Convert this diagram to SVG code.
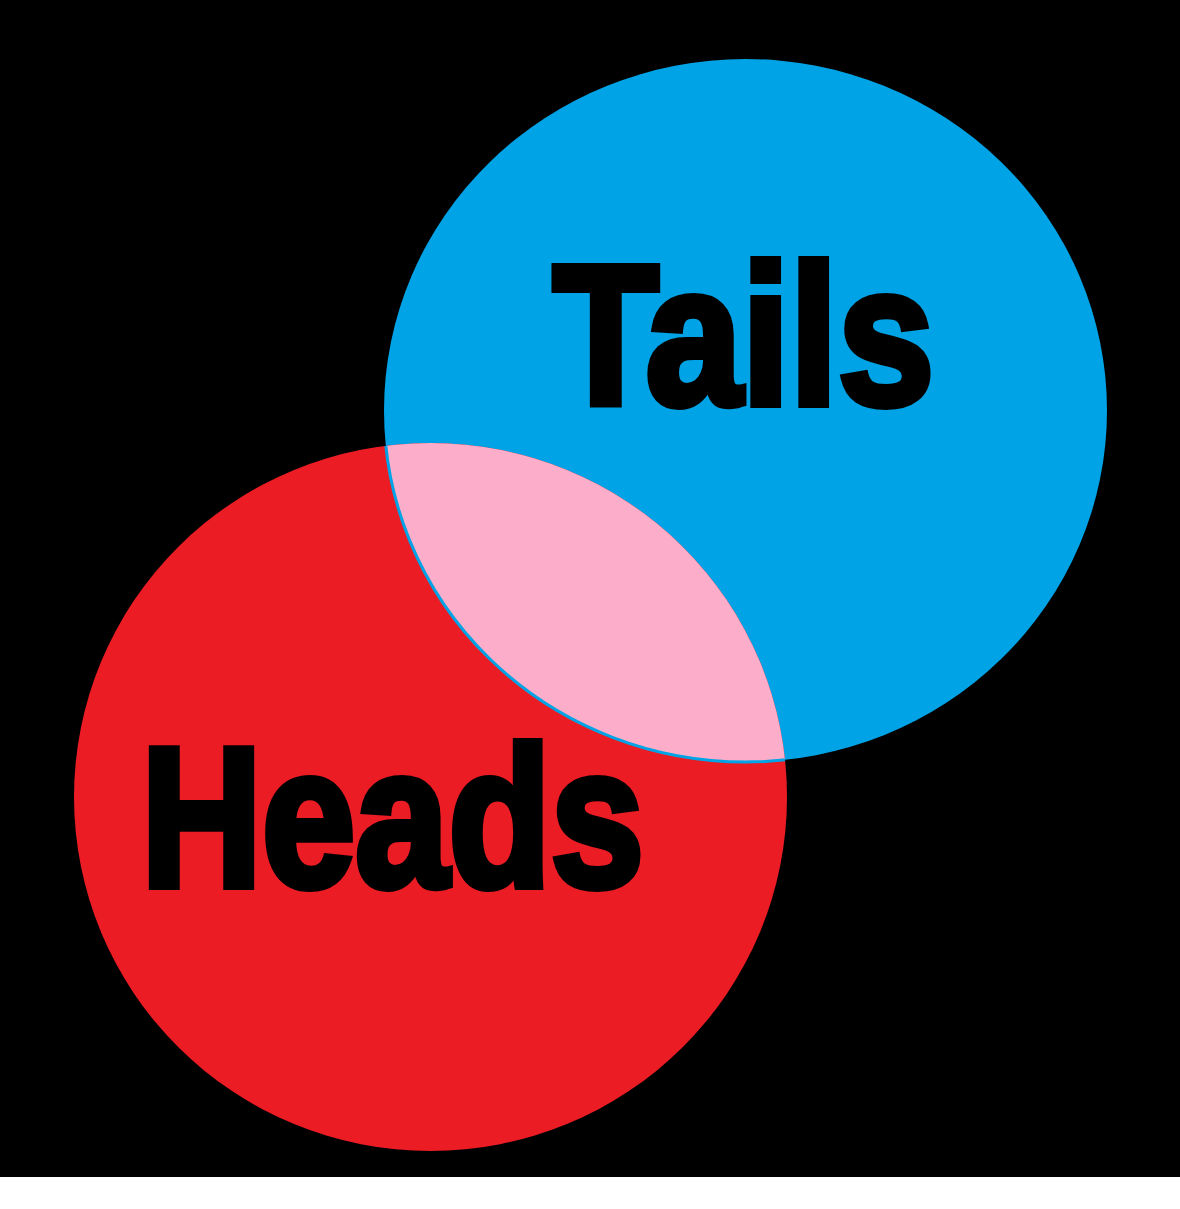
<svg xmlns="http://www.w3.org/2000/svg" width="1180" height="1209" viewBox="0 0 1180 1209">
<style>
.lbl{font-family:"Liberation Sans","Arial","DejaVu Sans",sans-serif;font-weight:700;font-size:198px;fill:#000;stroke:#000;stroke-width:8px;stroke-linejoin:miter}
</style>
<defs>
<clipPath id="redClip"><ellipse cx="430.5" cy="797" rx="356.5" ry="354"/></clipPath>
</defs>
<rect x="0" y="0" width="1180" height="1209" fill="#ffffff"/>
<rect x="0" y="0" width="1180" height="1177" fill="#000000"/>
<g id="tails">
<ellipse cx="745.5" cy="410.5" rx="361.5" ry="351.5" fill="#00A3E6"/>
</g>
<g id="heads">
<ellipse cx="430.5" cy="797" rx="356.5" ry="354" fill="#EC1C24"/>
</g>
<g id="overlap">
<ellipse cx="745.5" cy="410.5" rx="361.5" ry="351.5" fill="#FBADC9" stroke="#00A3E6" stroke-width="3" clip-path="url(#redClip)"/>
</g>
<g id="labels">
<text class="lbl" x="553" y="404" textLength="381" lengthAdjust="spacingAndGlyphs">Tails</text>
<text class="lbl" x="141" y="886" textLength="503" lengthAdjust="spacingAndGlyphs">Heads</text>
</g>
</svg>
